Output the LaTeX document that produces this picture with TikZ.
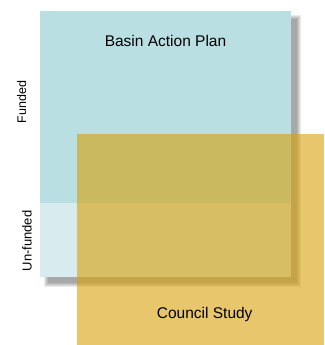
\documentclass[tikz,border=0pt]{standalone}
\usepackage{fontspec}
\setmainfont{Liberation Sans}
\begin{document}
\begin{tikzpicture}[x=1pt,y=1pt,
  shadowlayer/.style={fill=black,opacity=0.08},
  lbl/.style={inner sep=0pt,text=black}]
\definecolor{planblue}{RGB}{185,223,227}
\definecolor{unfunded}{RGB}{216,236,239}
\definecolor{studygold}{RGB}{215,160,10}
\useasboundingbox (0,0) rectangle (324,345);
\fill[white] (0,0) rectangle (324,345);
% shadow of the plan
\foreach \r in {3,2,1,0,-1}{
  \fill[shadowlayer] (47-\r,61-\r) rectangle (298+\r,327+\r);
}
% basin action plan
\fill[planblue] (40,142) rectangle (291,334);
\fill[unfunded] (40,68) rectangle (291,142);
\node[lbl,font=\fontsize{15.5}{18}\selectfont,anchor=base] (plan) at (165.5,298.5) {Basin Action Plan};
\node[lbl,font=\fontsize{12.5}{15}\selectfont,rotate=90,anchor=base] (funded) at (26,243) {Funded};
\node[lbl,font=\fontsize{13}{15}\selectfont,rotate=90,anchor=base] (unf) at (31.5,104) {Un-funded};
% council study
\fill[studygold,opacity=0.6] (77,0) rectangle (324,211);
\node[lbl,font=\fontsize{15.5}{18}\selectfont,anchor=base] (study) at (204.7,26.5) {Council Study};
\end{tikzpicture}
\end{document}
